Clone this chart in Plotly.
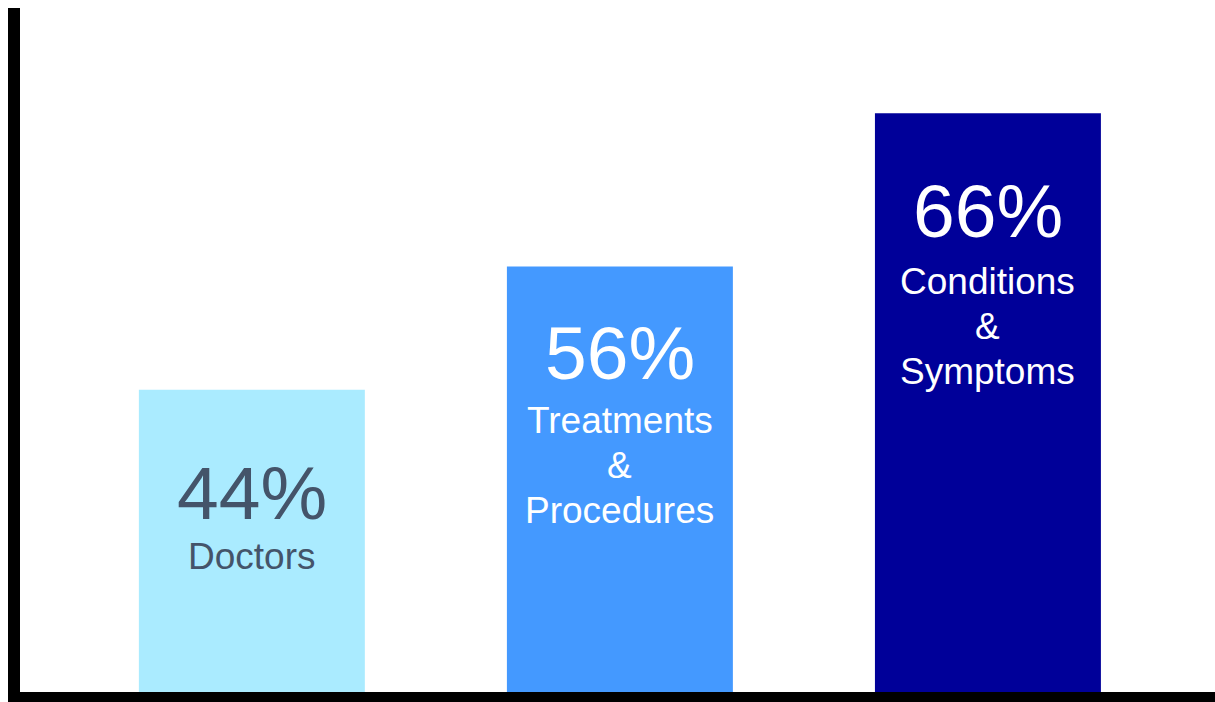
import plotly.graph_objects as go

# data
categories = ["Doctors", "Treatments<br>&<br>Procedures", "Conditions<br>&<br>Symptoms"]
share_labels = ["44%", "56%", "66%"]
bar_heights = [44.2, 62.2, 84.6]   # bar height as % of the plot height

# styling
bar_colors = ["#AAEBFF", "#4499FF", "#000099"]
text_colors = ["#44546A", "#FFFFFF", "#FFFFFF"]
num_shift = [-59, -42, -54]
label_shift = [-144, -131, -146]
LINE_GAP = 45
FONT = "Arial, Liberation Sans, sans-serif"

xs = list(range(len(categories)))

fig = go.Figure()
fig.add_trace(go.Bar(x=xs, y=bar_heights, width=0.614,
                     marker=dict(color=bar_colors, line=dict(width=0)),
                     hoverinfo="skip"))

for i in xs:
    fig.add_annotation(x=i, y=bar_heights[i], text=share_labels[i],
                       showarrow=False, yanchor="top", xanchor="center",
                       yshift=num_shift[i],
                       font=dict(family=FONT, size=75, color=text_colors[i]))
    for k, line in enumerate(categories[i].split("<br>")):
        fig.add_annotation(x=i, y=bar_heights[i], text=line,
                           showarrow=False, yanchor="top", xanchor="center",
                           yshift=label_shift[i] - k * LINE_GAP,
                           font=dict(family=FONT, size=37, color=text_colors[i]))

fig.update_xaxes(range=[-0.630, 2.617], showticklabels=False, showgrid=False,
                 zeroline=False, showline=True, linecolor="black", linewidth=11,
                 ticks="")
fig.update_yaxes(range=[0, 100], showticklabels=False, showgrid=False,
                 zeroline=False, showline=True, linecolor="black", linewidth=12,
                 ticks="")
fig.update_layout(width=1215, height=702, showlegend=False,
                  margin=dict(l=20, r=0, t=8, b=10),
                  paper_bgcolor="white", plot_bgcolor="white")

fig.write_html("out.html", config={"displayModeBar": False},
               post_script="document.body.style.margin='0';document.body.style.overflow='hidden';")
